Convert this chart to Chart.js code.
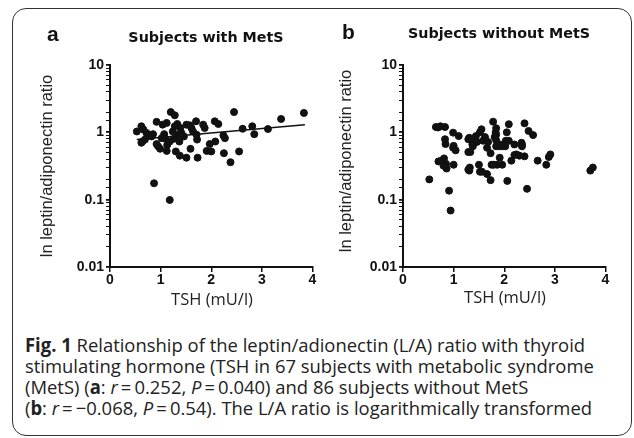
<!DOCTYPE html>
<html>
<head>
<meta charset="utf-8">
<script src="https://cdn.jsdelivr.net/npm/chart.js@4.4.1/dist/chart.umd.min.js"></script>
<style>
  html, body { margin: 0; padding: 0; background: #fff; }
  body { width: 634px; height: 438px; position: relative; overflow: hidden; font-family: "Liberation Sans", Arial, sans-serif; }
  .frame { position: absolute; left: 12px; top: 8px; width: 620px; height: 428px; border: 1.5px solid #333; border-radius: 14px; box-sizing: border-box; }
  canvas { position: absolute; top: 0; }
  .lbl { position: absolute; font-weight: bold; font-size: 21px; color: #111; }
  .ttl { position: absolute; font-family: "DejaVu Sans", Verdana, sans-serif; font-weight: bold; font-size: 14.3px; color: #111; transform: translateX(-50%); white-space: nowrap; }
  .ytitle { position: absolute; width: 260px; height: 20px; text-align: center; font-size: 16.5px; line-height: 20px; color: #222; white-space: nowrap; transform: translate(-50%, -50%) rotate(-90deg); }
  .xtitle { position: absolute; width: 120px; text-align: center; font-family: "Open Sans", sans-serif; font-size: 16.5px; color: #222; white-space: nowrap; transform: translate(-50%, -50%); }
  .caption { position: absolute; left: 25px; top: 335px; font-family: "Open Sans", sans-serif; font-size: 19px; line-height: 21px; color: #222; white-space: nowrap; transform: scaleX(0.97); transform-origin: left top; }
</style>
</head>
<body>
<div class="frame"></div>
<canvas id="chartA" width="317" height="300" style="left:0"></canvas>
<canvas id="chartB" width="317" height="300" style="left:293px"></canvas>
<div class="lbl" style="left:47px; top:22px">a</div>
<div class="lbl" style="left:342px; top:20px">b</div>
<div class="ttl" style="left:206px; top:29px">Subjects with MetS</div>
<div class="ttl" style="left:499px; top:25px">Subjects without MetS</div>
<div class="ytitle" style="left:46px; top:166px">ln leptin/adiponectin ratio</div>
<div class="ytitle" style="left:345px; top:161px">ln leptin/adiponectin ratio</div>
<div class="xtitle" style="left:212px; top:298px">TSH (mU/l)</div>
<div class="xtitle" style="left:505px; top:296px">TSH (mU/l)</div>
<div class="caption"><b>Fig. 1</b> Relationship of the leptin/adionectin (L/A) ratio with thyroid<br>stimulating hormone (TSH in 67 subjects with metabolic syndrome<br>(MetS) (<b>a</b>: <i>r</i>&thinsp;=&thinsp;0.252, <i>P</i>&thinsp;=&thinsp;0.040) and 86 subjects without MetS<br>(<b>b</b>: <i>r</i>&thinsp;=&thinsp;&minus;0.068, <i>P</i>&thinsp;=&thinsp;0.54). The L/A ratio is logarithmically transformed</div>

<script>
// panel a: subjects with MetS (TSH, L/A ratio)
const tshWith = [0.53, 0.62, 0.66, 0.64, 0.69, 0.72, 0.79, 0.85, 0.92, 0.95, 0.99, 0.87, 1.04, 1.07, 1.12, 1.13, 1.12, 1.18, 1.20, 1.28, 1.24, 1.28, 1.18, 1.30, 1.37, 1.38, 1.35, 1.39, 1.46, 1.51, 1.51, 1.59, 1.61, 1.64, 1.70, 1.72, 1.73, 1.84, 1.87, 1.91, 1.97, 2.00, 2.08, 2.07, 2.14, 2.24, 2.27, 2.25, 2.38, 2.45, 2.55, 2.62, 2.81, 2.85, 3.12, 3.38, 3.83, 0.62, 0.92, 1.10, 1.26, 1.41, 1.02, 1.33, 1.71, 1.58, 0.82];
const ratioWith = [1.03, 1.23, 1.10, 0.73, 0.78, 0.98, 0.92, 0.94, 1.43, 0.62, 0.57, 0.175, 1.30, 0.94, 1.38, 0.65, 0.53, 0.73, 2.00, 1.79, 1.03, 1.23, 0.099, 0.52, 0.73, 0.45, 0.92, 1.16, 0.87, 1.30, 0.42, 0.57, 1.16, 1.03, 1.46, 0.78, 0.42, 1.30, 1.16, 0.53, 0.67, 0.52, 0.73, 1.46, 1.33, 0.90, 0.82, 0.49, 0.36, 2.00, 0.52, 1.13, 1.23, 0.94, 1.12, 1.58, 1.94, 0.70, 0.67, 0.80, 0.80, 0.98, 0.82, 1.33, 0.92, 1.27, 0.87];
// fitted line for panel a
const fitTsh = [0.53, 3.85];
const fitRatio = [0.78, 1.30];

// panel b: subjects without MetS
const tshWithout = [0.52, 0.91, 0.94, 0.65, 0.69, 0.74, 0.83, 0.70, 0.81, 0.85, 0.86, 0.83, 0.84, 0.99, 0.99, 1.04, 1.00, 1.10, 1.31, 1.29, 1.32, 1.31, 1.37, 1.44, 1.50, 1.52, 1.55, 1.52, 1.46, 1.66, 1.66, 1.73, 1.75, 1.73, 1.78, 1.84, 1.83, 1.81, 1.84, 1.90, 1.91, 1.86, 1.96, 2.05, 2.09, 2.09, 2.06, 2.14, 2.20, 2.24, 2.34, 2.35, 2.40, 2.40, 2.48, 2.57, 2.45, 2.66, 2.83, 2.88, 2.91, 3.70, 3.75, 1.00, 1.29, 1.35, 1.38, 1.58, 1.68, 1.84, 1.91, 1.97, 2.02, 2.20, 2.30, 2.03, 1.29, 1.79, 0.80, 1.56, 1.33, 1.42, 1.84, 2.35, 0.76, 1.62];
const ratioWithout = [0.20, 0.136, 0.069, 1.20, 1.18, 1.23, 1.20, 0.37, 0.41, 0.34, 0.29, 0.79, 0.67, 0.99, 0.59, 0.54, 0.33, 0.88, 0.83, 0.51, 0.30, 0.27, 0.66, 0.88, 0.33, 0.26, 1.11, 1.00, 0.72, 0.59, 0.24, 0.195, 0.33, 0.49, 1.44, 1.15, 1.00, 0.85, 0.76, 0.62, 0.42, 0.33, 0.33, 1.00, 1.32, 0.75, 0.19, 0.38, 0.66, 0.47, 0.70, 0.62, 0.44, 1.36, 1.05, 0.91, 0.145, 0.38, 0.33, 0.43, 0.47, 0.27, 0.30, 0.63, 0.79, 0.77, 0.62, 0.75, 0.72, 0.92, 0.66, 0.62, 0.62, 0.46, 0.45, 0.75, 0.28, 0.33, 0.32, 0.26, 0.51, 0.80, 0.62, 0.66, 0.38, 0.85];

const xTicks = [0, 1, 2, 3, 4];
const yTickLabels = ['0.01', '0.1', '1', '10'];

function pts(xs, ys) {
  return xs.map((x, i) => ({ x: x, y: ys[i] }));
}

function makeChart(id, xs, ys, withFit, padLeft) {
  const datasets = [{
    data: pts(xs, ys),
    backgroundColor: '#111',
    borderColor: '#111',
    pointRadius: 3.5,
    pointHoverRadius: 3.5
  }];
  if (withFit) {
    datasets.push({
      data: pts(fitTsh, fitRatio),
      showLine: true,
      pointRadius: 0,
      borderColor: '#111',
      borderWidth: 1.5
    });
  }
  return new Chart(document.getElementById(id), {
    type: 'scatter',
    data: { datasets: datasets },
    options: {
      responsive: false,
      animation: false,
      layout: { padding: { left: padLeft, top: 65, right: 4, bottom: 0 } },
      plugins: { legend: { display: false }, tooltip: { enabled: false } },
      scales: {
        x: {
          type: 'linear',
          min: xTicks[0],
          max: xTicks[xTicks.length - 1],
          afterBuildTicks: s => { s.ticks = xTicks.map(v => ({ value: v })); },
          afterFit: s => { s.height = 33; },
          border: { display: true, color: '#111', width: 2 },
          grid: { drawOnChartArea: false, drawTicks: true, tickLength: 5, color: '#111', lineWidth: 1.5 },
          ticks: { color: '#111', padding: 0, font: { family: 'Liberation Sans', weight: 'bold', size: 14 } }
        },
        y: {
          type: 'logarithmic',
          min: 0.01,
          max: 10,
          afterFit: s => { s.width = 60; },
          border: { display: true, color: '#111', width: 2 },
          grid: {
            drawOnChartArea: false, drawTicks: true, tickLength: 4, color: '#111',
            lineWidth: c => (c.tick && c.tick.label !== '' ? 1.8 : 1)
          },
          ticks: {
            color: '#111', padding: 2, autoSkip: false,
            font: { family: 'Liberation Sans', weight: 'bold', size: 14 },
            callback: v => {
              const l = Math.log10(v);
              const r = Math.round(l);
              return Math.abs(l - r) < 1e-6 ? yTickLabels[r + 2] : '';
            }
          }
        }
      }
    }
  });
}

makeChart('chartA', tshWith, ratioWith, true, 50);
makeChart('chartB', tshWithout, ratioWithout, false, 50);
</script>
</body>
</html>
